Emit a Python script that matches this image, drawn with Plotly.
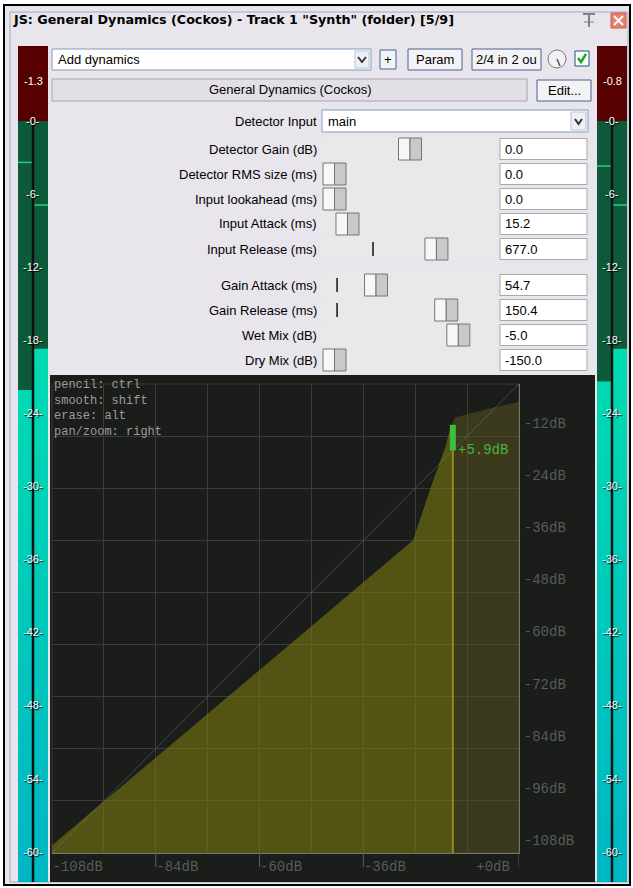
import numpy as np
import plotly.graph_objects as go

W, H = 633, 888

# transfer curve of the dynamics processor (input dB -> output dB)
curve_in = [-108, -24.5, -20.4, -17.0, -16.0, -14.8, -7.5, 0]
curve_out = [-106.2, -36.0, -23.8, -14.4, -10.6, -7.7, -5.8, -4.1]
current_in = -15.3
gain_db = 5.9

x_tick_vals = [-108, -84, -60, -36, -10]
x_tick_text = ["-108dB", "-84dB", "-60dB", "-36dB", "+0dB"]
x_tick_marks = [-84, -60, -36, 0]
y_tick_vals = [-9, -21, -33, -45, -57, -69, -81, -93, -105]
y_tick_text = ["-12dB", "-24dB", "-36dB", "-48dB", "-60dB", "-72dB", "-84dB", "-96dB", "-108dB"]
grid_vals = [-108, -96, -84, -72, -60, -48, -36, -24, -12, 0]

help_lines = ["pencil: ctrl", "smooth: shift", "erase: alt", "pan/zoom: right"]

# level meters (dB), two channels each
meter_ticks = [0, -6, -12, -18, -24, -30, -36, -42, -48, -54, -60]
left_levels = [-22.1, -18.7]
right_levels = [-21.4, -18.7]
left_holds = [-3.4, -6.9]
right_holds = [-3.7, -6.9]
left_peak = "-1.3"
right_peak = "-0.8"

# parameters
param_names = ["Detector Gain (dB)", "Detector RMS size (ms)", "Input lookahead (ms)",
               "Input Attack (ms)", "Input Release (ms)", "Gain Attack (ms)",
               "Gain Release (ms)", "Wet Mix (dB)", "Dry Mix (dB)"]
param_values = ["0.0", "0.0", "0.0", "15.2", "677.0", "54.7", "150.4", "-5.0", "-150.0"]
slider_frac = [0.50, 0.0, 0.0, 0.086, 0.675, 0.275, 0.74, 0.82, 0.0]
default_frac = [None, None, None, None, 0.255, 0.017, 0.017, None, None]

UI = "Liberation Sans, Arial, sans-serif"
MONO = "Liberation Mono, DejaVu Sans Mono, monospace"
GRID = "#393c39"
PANEL = "#1a1d1a"
WIN = "#e8e5ec"
METER_FLOOR, METER_TOP = -62.5, 6.16


def X(px):
    return px / W


def Y(py):
    return 1 - py / H


shapes = []
annotations = []


def box(x0, y0, x1, y1, fill, line=None, width=1):
    shapes.append(dict(type="rect", xref="paper", yref="paper", layer="below",
                       x0=X(x0), x1=X(x1), y0=Y(y1), y1=Y(y0), fillcolor=fill,
                       line=dict(color=line or fill, width=width if line else 0)))


def seg(x0, y0, x1, y1, color, width=1):
    shapes.append(dict(type="line", xref="paper", yref="paper", layer="below",
                       x0=X(x0), x1=X(x1), y0=Y(y0), y1=Y(y1),
                       line=dict(color=color, width=width)))


def label(x, y, s, size=13, color="#000", anchor="left", family=UI, yanchor="middle", **kw):
    annotations.append(dict(xref="paper", yref="paper", x=X(x), y=Y(y), text=s,
                            showarrow=False, xanchor=anchor, yanchor=yanchor, align="left",
                            font=dict(family=family, size=size, color=color, **kw)))


def button(x0, y0, x1, y1, s):
    box(x0, y0, x1, y1, "#f3f3f5", "#46668c", 1)
    label((x0 + x1) / 2, (y0 + y1) / 2, s, anchor="center")


# window frame
box(4, 5, 630, 885, WIN, "#000000", 2)
box(10, 12, 628, 882, WIN, "#a3a9b8", 1)
label(11, 20, 'JS: General Dynamics (Cockos) - Track 1 "Synth" (folder) [5/9]', size=12.7,
      family="DejaVu Sans, sans-serif", weight="bold")
# pin and close
seg(583, 14, 595, 14, "#808080", 2)
seg(589, 14, 589, 27, "#808080", 2)
seg(584, 22, 594, 22, "#808080", 1)
box(611, 13, 626, 28, "#ea7f6c", "#d05a48")
seg(614, 16, 623, 25, "#ffffff", 2)
seg(623, 16, 614, 25, "#ffffff", 2)

# top row
box(52, 49, 371, 70, "#ffffff", "#7f9db9")
label(56, 60, "Add dynamics")
box(355, 51, 369, 68, "#eef0f6", "#b8c4d8")
shapes.append(dict(type="path", xref="paper", yref="paper", layer="below",
                   path=f"M {X(358)} {Y(57)} L {X(362)} {Y(62)} L {X(366)} {Y(57)}",
                   line=dict(color="#333", width=2)))
button(380, 50, 396, 69, "+")
button(408, 49, 462, 70, "Param")
button(472, 49, 541, 70, "2/4 in 2 ou")
shapes.append(dict(type="circle", xref="paper", yref="paper", layer="below",
                   x0=X(548), x1=X(566), y0=Y(68), y1=Y(50), fillcolor="#f1f1f1",
                   line=dict(color="#7a7a7a", width=1)))
seg(557, 59, 560, 66, "#555", 1.5)
box(575, 51, 589, 66, "#ffffff", "#1c5180")
shapes.append(dict(type="path", xref="paper", yref="paper", layer="below",
                   path=f"M {X(578)} {Y(58)} L {X(581)} {Y(62)} L {X(586)} {Y(54)}",
                   line=dict(color="#21a821", width=2.5)))

# plugin name row
box(52, 79, 527, 101, "#e2e0e6", "#a8a7ac")
label(290, 90, "General Dynamics (Cockos)", anchor="center")
button(537, 80, 591, 101, "Edit...")

# detector input
label(319, 121, "Detector Input", anchor="right")
box(322, 110, 588, 132, "#ffffff", "#7f9db9")
label(326, 121, "main")
box(571, 112, 586, 130, "#eef0f6", "#b8c4d8")
shapes.append(dict(type="path", xref="paper", yref="paper", layer="below",
                   path=f"M {X(575)} {Y(119)} L {X(578.5)} {Y(124)} L {X(582)} {Y(119)}",
                   line=dict(color="#333", width=2)))

# parameter rows
row_y = [149, 174, 199, 224, 249, 285, 310, 335, 360]
for name, val, f, d, yc in zip(param_names, param_values, slider_frac, default_frac, row_y):
    label(319, yc, name, anchor="right")
    box(322, yc - 12, 497, yc + 12, "#e9e9ea")
    if d is not None:
        dx = 334.5 + d * 151
        seg(dx, yc - 7, dx, yc + 7, "#111", 1.5)
    cx = 334.5 + f * 151
    box(cx - 11.5, yc - 11, cx, yc + 11, "#f7f7f7", "#757575")
    box(cx, yc - 11, cx + 11.5, yc + 11, "#c9c9c9", "#757575")
    box(500, yc - 10.5, 587, yc + 10.5, "#ffffff", "#a9a9a9")
    label(503, yc, val)

# graph panel
box(50, 375, 595, 882, PANEL)
label(52, 376, "<br>".join(help_lines), size=12, color="#9c9c9c", family=MONO, yanchor="top")

fig = go.Figure()

# main transfer plot
xs = np.array(curve_in, dtype=float)
ys = np.array(curve_out, dtype=float)
split_y = float(np.interp(current_in, xs, ys))
left_x = [v for v in curve_in if v < current_in] + [current_in]
left_y = [v for v, u in zip(curve_out, curve_in) if u < current_in] + [split_y]
right_x = [current_in] + [v for v in curve_in if v > current_in]
right_y = [split_y] + [v for v, u in zip(curve_out, curve_in) if u > current_in]
lo = grid_vals[0]
fig.add_trace(go.Scatter(x=left_x + [current_in, lo], y=left_y + [lo, lo], fill="toself",
                         mode="lines", line=dict(width=0),
                         fillcolor="rgba(121,121,17,0.6)", hoverinfo="skip"))
fig.add_trace(go.Scatter(x=right_x + [0, current_in], y=right_y + [lo, lo], fill="toself",
                         mode="lines", line=dict(width=0),
                         fillcolor="rgba(92,87,31,0.5)", hoverinfo="skip"))
fig.add_trace(go.Scatter(x=[lo, 0], y=[lo, 0], mode="lines",
                         line=dict(color="rgba(150,150,150,0.35)", width=1), hoverinfo="skip"))
fig.add_trace(go.Scatter(x=[current_in, current_in], y=[lo, current_in], mode="lines",
                         line=dict(color="#8e8e18", width=2), hoverinfo="skip"))
fig.add_trace(go.Scatter(x=[current_in, current_in], y=[current_in, current_in + gain_db],
                         mode="lines", line=dict(color="#3dbe3d", width=6), hoverinfo="skip"))
annotations.append(dict(xref="x", yref="y", x=current_in + 0.8, y=current_in, text=f"+{gain_db}dB",
                        showarrow=False, xanchor="left", yanchor="middle",
                        font=dict(family=MONO, size=14, color="#4cb53a")))
for v in x_tick_marks:
    shapes.append(dict(type="line", xref="x", yref="paper", x0=v, x1=v, y0=Y(853), y1=Y(867),
                       line=dict(color="#5e5e5e", width=1)))
shapes.append(dict(type="rect", xref="x domain", yref="y domain", x0=0, x1=1, y0=0, y1=1,
                   line=dict(color=GRID, width=1), layer="below"))

# meters
meters = [("2", left_levels, left_holds, left_peak), ("3", right_levels, right_holds, right_peak)]
for ax, levels, holds, peak in meters:
    xr, yr = "x" + ax, "y" + ax
    shapes.append(dict(type="rect", xref=xr + " domain", yref=yr, x0=0, x1=1, y0=METER_FLOOR, y1=0,
                       fillcolor="#0c5a3a", line=dict(width=0), layer="below"))
    shapes.append(dict(type="rect", xref=xr + " domain", yref=yr, x0=0, x1=1, y0=0, y1=METER_TOP,
                       fillcolor="#560000", line=dict(width=0), layer="below"))
    for i, lvl in enumerate(levels):
        fig.add_trace(go.Scatter(x=[i - 0.5, i + 0.5, i + 0.5, i - 0.5], y=[METER_FLOOR, METER_FLOOR, lvl, lvl],
                                 fill="toself", mode="lines", line=dict(width=0),
                                 fillgradient=dict(type="vertical", start=METER_FLOOR, stop=-18,
                                                   colorscale=[[0, "#00b6c4"], [1, "#00dcb1"]]),
                                 xaxis=xr, yaxis=yr, hoverinfo="skip"))
    for i, hv in enumerate(holds):
        fig.add_trace(go.Scatter(x=[i - 0.5, i + 0.5], y=[hv, hv], mode="lines",
                                 line=dict(color="#27d27c", width=1.5), xaxis=xr, yaxis=yr, hoverinfo="skip"))
    fig.add_trace(go.Scatter(x=[0.5, 0.5], y=[METER_FLOOR, 0], mode="lines",
                             line=dict(color="#111", width=2.5), xaxis=xr, yaxis=yr, hoverinfo="skip"))
    for t in meter_ticks:
        annotations.append(dict(xref=xr, yref=yr, x=0.5, y=t, text=f"-{-t}-", showarrow=False,
                                font=dict(family=UI, size=11, color="#ffffff", shadow="1px 1px 1px #000")))
    annotations.append(dict(xref=xr, yref=yr, x=0.5, y=3.3, text=peak, showarrow=False,
                            font=dict(family=UI, size=11, color="#ffffff")))

for ax, x0, x1 in [("2", 18, 48), ("3", 597, 627)]:
    fig.update_layout(**{
        "xaxis" + ax: dict(domain=[X(x0), X(x1)], range=[-0.5, 1.5], visible=False,
                           anchor="y" + ax, fixedrange=True),
        "yaxis" + ax: dict(domain=[Y(882), Y(46)], range=[METER_FLOOR, METER_TOP], visible=False,
                           anchor="x" + ax, fixedrange=True),
    })

tickfont = dict(family=MONO, size=14, color="#585b58")
fig.update_layout(
    width=W, height=H, margin=dict(l=0, r=0, t=0, b=0),
    paper_bgcolor="#ffffff", plot_bgcolor="rgba(0,0,0,0)", showlegend=False,
    xaxis=dict(domain=[X(52), X(519)], range=[-108, 0], tickmode="array",
               tickvals=x_tick_vals, ticktext=x_tick_text, ticklabelposition="outside right",
               ticks="", showgrid=False, zeroline=False, showline=True, linecolor="#747474",
               tickfont=tickfont, fixedrange=True,
               minor=dict(tickmode="array", tickvals=grid_vals, showgrid=True, gridcolor=GRID, gridwidth=1)),
    yaxis=dict(domain=[Y(853), Y(384)], range=[-108, 0], side="right", tickmode="array",
               tickvals=y_tick_vals, ticktext=y_tick_text, ticks="", ticklabelstandoff=1,
               showgrid=False, zeroline=False, showline=True, linecolor="#747474",
               tickfont=tickfont, fixedrange=True,
               minor=dict(tickmode="array", tickvals=grid_vals, showgrid=True, gridcolor=GRID, gridwidth=1)),
    shapes=shapes, annotations=annotations,
)

# the page's default body margin would push the 633x888 figure off the window
fig.write_html("out.html", config={"displayModeBar": False},
               post_script="document.body.style.margin='0';document.body.style.overflow='hidden';")
